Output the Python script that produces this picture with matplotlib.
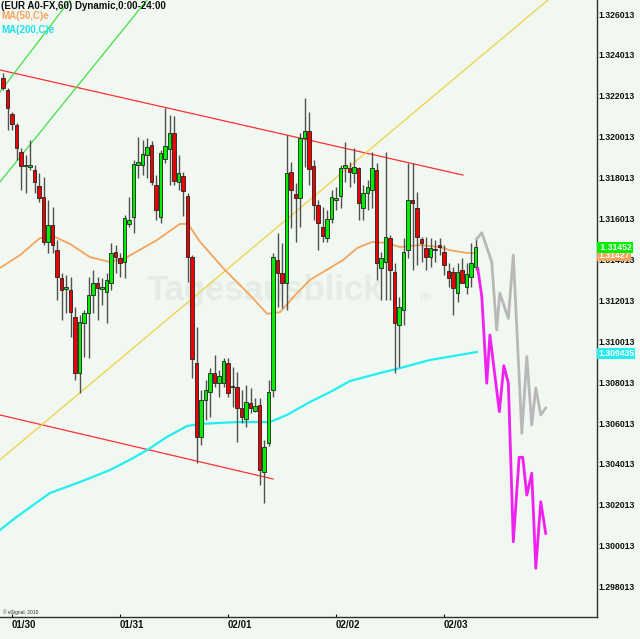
import numpy as np
import matplotlib
matplotlib.use('Agg')
import matplotlib.pyplot as plt
import matplotlib.transforms as mtransforms

# EUR A0-FX, 60 min bars (24 bars per day)
bar_open = [1.32289, 1.32230, 1.32113, 1.32059, 1.31927, 1.31858, 1.31853, 1.31839, 1.31760, 1.31707,
            1.31487, 1.31570, 1.31447, 1.31311, 1.31257, 1.31252, 1.31120, 1.30846, 1.31091, 1.31139,
            1.31227, 1.31286, 1.31257, 1.31242, 1.31286, 1.31438, 1.31408, 1.31389, 1.31575, 1.31609,
            1.31863, 1.31863, 1.31912, 1.31961, 1.31765, 1.31609, 1.31892, 1.31941, 1.32020, 1.31780,
            1.31809, 1.31712, 1.31413, 1.30895, 1.30533, 1.30714, 1.30753, 1.30846, 1.30797, 1.30797,
            1.30895, 1.30778, 1.30778, 1.30675, 1.30621, 1.30699, 1.30660, 1.30690, 1.30362, 1.30504,
            1.30763, 1.31399, 1.31335, 1.31286, 1.31829, 1.31721, 1.31702, 1.31995, 1.32029, 1.31858,
            1.31668, 1.31560, 1.31506, 1.31599, 1.31692, 1.31712, 1.31848, 1.31848, 1.31824, 1.31848,
            1.31653, 1.31726, 1.31741, 1.31839, 1.31359, 1.31389, 1.31506, 1.31340, 1.31081, 1.31154,
            1.31447, 1.31692, 1.31653, 1.31501, 1.31457, 1.31413, 1.31447, 1.31472, 1.31438, 1.31345,
            1.31340, 1.31237, 1.31350, 1.31267, 1.31315, 1.31364]
bar_high = [1.32313, 1.32240, 1.32122, 1.32069, 1.31946, 1.31912, 1.31985, 1.31863, 1.31824, 1.31804,
            1.31692, 1.31658, 1.31496, 1.31335, 1.31325, 1.31315, 1.31169, 1.31130, 1.31154, 1.31315,
            1.31350, 1.31315, 1.31311, 1.31335, 1.31482, 1.31472, 1.31433, 1.31619, 1.31707, 1.31888,
            1.32000, 1.31985, 1.31995, 1.31981, 1.31814, 1.31936, 1.32142, 1.32108, 1.32103, 1.31912,
            1.31829, 1.31726, 1.31423, 1.31071, 1.30763, 1.30812, 1.30870, 1.30934, 1.30861, 1.30919,
            1.30919, 1.30875, 1.30851, 1.30763, 1.30787, 1.30773, 1.30724, 1.30724, 1.30518, 1.30812,
            1.31433, 1.31531, 1.31482, 1.32010, 1.31878, 1.31775, 1.32020, 1.32191, 1.32122, 1.31888,
            1.31692, 1.31658, 1.31643, 1.31741, 1.31756, 1.31863, 1.31976, 1.31878, 1.31946, 1.31853,
            1.31765, 1.31790, 1.31927, 1.31873, 1.31438, 1.31927, 1.31521, 1.31384, 1.31218, 1.31506,
            1.31873, 1.31873, 1.31731, 1.31511, 1.31511, 1.31506, 1.31496, 1.31506, 1.31472, 1.31384,
            1.31364, 1.31384, 1.31408, 1.31384, 1.31482, 1.31511]
bar_low = [1.32230, 1.32034, 1.32034, 1.31888, 1.31741, 1.31726, 1.31839, 1.31726, 1.31682, 1.31472,
           1.31433, 1.31433, 1.31203, 1.31105, 1.31139, 1.31022, 1.30812, 1.30748, 1.30924, 1.30919,
           1.31139, 1.31105, 1.31179, 1.31091, 1.31252, 1.31335, 1.31315, 1.31311, 1.31560, 1.31531,
           1.31800, 1.31814, 1.31800, 1.31765, 1.31594, 1.31580, 1.31873, 1.31765, 1.31765, 1.31741,
           1.31614, 1.31291, 1.30822, 1.30406, 1.30494, 1.30616, 1.30631, 1.30778, 1.30729, 1.30778,
           1.30729, 1.30680, 1.30509, 1.30602, 1.30582, 1.30650, 1.30655, 1.30298, 1.30210, 1.30489,
           1.30729, 1.31169, 1.31164, 1.31154, 1.31555, 1.31487, 1.31560, 1.31853, 1.31765, 1.31594,
           1.31447, 1.31487, 1.31487, 1.31580, 1.31643, 1.31653, 1.31780, 1.31756, 1.31775, 1.31594,
           1.31594, 1.31643, 1.31653, 1.31301, 1.31203, 1.31203, 1.31203, 1.30846, 1.30875, 1.31081,
           1.31408, 1.31350, 1.31374, 1.31389, 1.31350, 1.31364, 1.31389, 1.31423, 1.31325, 1.31267,
           1.31130, 1.31193, 1.31286, 1.31232, 1.31267, 1.31350]
bar_close = [1.32240, 1.32142, 1.32064, 1.31946, 1.31858, 1.31863, 1.31863, 1.31780, 1.31702, 1.31487,
             1.31570, 1.31472, 1.31315, 1.31252, 1.31267, 1.31144, 1.30846, 1.31095, 1.31139, 1.31227,
             1.31286, 1.31262, 1.31267, 1.31301, 1.31433, 1.31413, 1.31384, 1.31604, 1.31594, 1.31868,
             1.31878, 1.31917, 1.31951, 1.31780, 1.31643, 1.31922, 1.31956, 1.32020, 1.31785, 1.31824,
             1.31736, 1.31413, 1.30914, 1.30533, 1.30714, 1.30763, 1.30846, 1.30797, 1.30831, 1.30905,
             1.30748, 1.30778, 1.30675, 1.30631, 1.30704, 1.30675, 1.30685, 1.30372, 1.30484, 1.30753,
             1.31413, 1.31335, 1.31286, 1.31824, 1.31741, 1.31702, 1.31995, 1.32029, 1.31844, 1.31668,
             1.31580, 1.31516, 1.31599, 1.31707, 1.31702, 1.31848, 1.31863, 1.31829, 1.31853, 1.31677,
             1.31726, 1.31756, 1.31848, 1.31384, 1.31408, 1.31511, 1.31350, 1.31091, 1.31169, 1.31438,
             1.31692, 1.31677, 1.31511, 1.31482, 1.31413, 1.31457, 1.31447, 1.31462, 1.31374, 1.31311,
             1.31262, 1.31340, 1.31286, 1.31330, 1.31384, 1.31462]

# moving averages (sampled along the curve)
ma50_x = [-0.7, 3.8, 8.2, 11.6, 14.9, 19.3, 23.8, 27.6, 34.2, 39.3, 41.1, 43.8, 49.3, 54.9, 58.7,
          61.6, 64.9, 68.2, 75.6, 78.7, 82.0, 85.3, 88.2, 92.7, 97.1, 99.3, 103.1, 105.3]
ma50_y = [1.31359, 1.31423, 1.31506, 1.31511, 1.31477, 1.31413, 1.31389, 1.31413, 1.31496, 1.31575,
          1.31575, 1.31487, 1.31350, 1.31227, 1.31135, 1.31144, 1.31227, 1.31301, 1.31399, 1.31457,
          1.31487, 1.31482, 1.31462, 1.31472, 1.31462, 1.31447, 1.31433, 1.31433]
ma200_x = [-0.7, 2.7, 10.4, 17.1, 23.8, 28.9, 32.0, 36.4, 40.9, 43.8, 48.2, 52.0, 59.3, 63.1, 68.2,
           72.7, 77.1, 83.8, 88.2, 94.9, 98.7, 105.3]
ma200_y = [1.30078, 1.30137, 1.30259, 1.30313, 1.30372, 1.30430, 1.30469, 1.30533, 1.30587, 1.30597,
           1.30602, 1.30606, 1.30606, 1.30641, 1.30704, 1.30753, 1.30807, 1.30846, 1.30870, 1.30910,
           1.30924, 1.30949]

# projected paths
grey_x = [105.3, 106.4, 108.6, 109.7, 110.4, 112.3, 113.4, 115.3, 116.4, 117.5, 118.4, 119.5, 120.6]
grey_y = [1.31502, 1.31532, 1.31390, 1.31056, 1.31237, 1.31113, 1.31423, 1.30551, 1.30926, 1.30592,
          1.30773, 1.30641, 1.30675]
magenta_x = [105.5, 106.4, 107.5, 108.2, 110.3, 111.3, 112.3, 113.4, 114.7, 115.5, 116.4, 117.5,
             118.4, 119.5, 120.6]
magenta_y = [1.31358, 1.31219, 1.30796, 1.31032, 1.30657, 1.30882, 1.30797, 1.30021, 1.30434, 1.30434,
             1.30249, 1.30356, 1.29891, 1.30217, 1.30062]

# drawn trend lines: (x0, x1), (y0, y1)
trend_lines = [
    ((-0.7, 102.2), (1.32328, 1.31814), '#ff3030'),
    ((-0.7, 60.0), (1.30641, 1.30328), '#ff3030'),
    ((-0.7, 121.1), (1.30421, 1.32670), '#f0d040'),
    ((-0.7, 14.9), (1.32220, 1.32670), '#40e040'),
    ((-0.7, 32.0), (1.31780, 1.32670), '#40e040'),
]

day_ticks = [2, 26, 50, 74, 98]
day_labels = ['01/30', '01/31', '02/01', '02/02', '02/03']
price_ticks = [1.298013 + 0.002 * k for k in range(15)]

last_close = '1.31452'
last_ma50 = '1.31427'
last_ma200 = '1.309435'

plt.rcParams['font.family'] = ['Liberation Sans', 'DejaVu Sans']

bg = '#f1f7f1'
fig = plt.figure(figsize=(6.4, 6.39), dpi=100, facecolor=bg)
ax = fig.add_axes([0, 22 / 639, 597 / 640, 617 / 639], facecolor=bg)

# watermark
ax.text(32, 1.31203, 'Tagesausblick', fontsize=25, fontweight='bold', color='#e4ece4',
        va='baseline', ha='left', zorder=0)
ax.text(92.5, 1.31203, 'de', fontsize=8, fontweight='bold', color='#e4ece4',
        va='baseline', ha='left', zorder=0)

for (xs, ys, col) in trend_lines:
    ax.plot(xs, ys, color=col, lw=0.9, zorder=1)

ax.plot(ma200_x, ma200_y, color='#22eef0', lw=1.6, zorder=2)
ax.plot(ma50_x, ma50_y, color='#f4a45c', lw=1.3, zorder=2)

# candles
o = np.array(bar_open)
h = np.array(bar_high)
l = np.array(bar_low)
c = np.array(bar_close)
x = np.arange(len(o))
up = c >= o
ax.vlines(x, l, h, color='#505050', lw=1.0, zorder=3)
body = np.where(np.abs(c - o) < 0.00003, 0.00003, c - o)
ax.bar(x, body, bottom=o, width=0.72, color=np.where(up, '#00ee00', '#ee0000'),
       edgecolor='#202020', linewidth=0.6, zorder=4)

ax.plot(grey_x, grey_y, color='#b8b8b8', lw=2.0, zorder=5)
ax.plot(magenta_x, magenta_y, color='#f020f0', lw=2.0, zorder=5)

ax.set_xlim(-0.67, 132.0)
ax.set_ylim(1.29653, 1.32670)

for s in ['top', 'left']:
    ax.spines[s].set_visible(False)
for s in ['right', 'bottom']:
    ax.spines[s].set_color('#303030')
    ax.spines[s].set_linewidth(1.0)

ax.yaxis.tick_right()
ax.set_yticks(price_ticks)
ax.set_yticklabels(['%.6f' % p for p in price_ticks])
ax.tick_params(axis='y', length=0, pad=1, labelsize=6.2, colors='#101010')
for t in ax.get_yticklabels():
    t.set_fontweight('bold')

ax.set_xticks(day_ticks)
ax.set_xticklabels(day_labels)
ax.tick_params(axis='x', direction='in', length=2, pad=2, labelsize=7, colors='#101010')
for t in ax.get_xticklabels():
    t.set_fontweight('bold')
    t.set_horizontalalignment('left')

# last value boxes on the price scale
tr = mtransforms.blended_transform_factory(ax.transAxes, ax.transData)
box_kw = dict(transform=tr, fontsize=6.2, fontweight='bold', color='white',
              va='center', ha='left', clip_on=False)
ax.text(1.002, float(last_ma50) - 0.00006, last_ma50, zorder=6,
        bbox=dict(boxstyle='square,pad=0.12', fc='#f4a45c', ec='none'), **box_kw)
ax.text(1.002, float(last_close) + 0.00006, ' ' + last_close, zorder=7,
        bbox=dict(boxstyle='square,pad=0.12', fc='#00ee00', ec='none'), **box_kw)
ax.text(1.002, float(last_ma200), last_ma200, zorder=6,
        bbox=dict(boxstyle='square,pad=0.12', fc='#22eef0', ec='none'), **box_kw)

# legend texts
fig.text(0.002, 1 - 6 / 639, '(EUR A0-FX,60) Dynamic,0:00-24:00', fontsize=7, fontweight='bold',
         color='#101010', va='center', ha='left')
fig.text(0.002, 1 - 16 / 639, 'MA(50,C)e', fontsize=7, fontweight='bold',
         color='#f4a45c', va='center', ha='left')
fig.text(0.002, 1 - 30 / 639, 'MA(200,C)e', fontsize=7, fontweight='bold',
         color='#22e0f0', va='center', ha='left')
fig.text(0.005, 1 - 612 / 639, '\u00a9 eSignal, 2010', fontsize=3.5, color='#303030',
         va='center', ha='left')

fig.savefig('out.png', dpi=100, facecolor=bg)
